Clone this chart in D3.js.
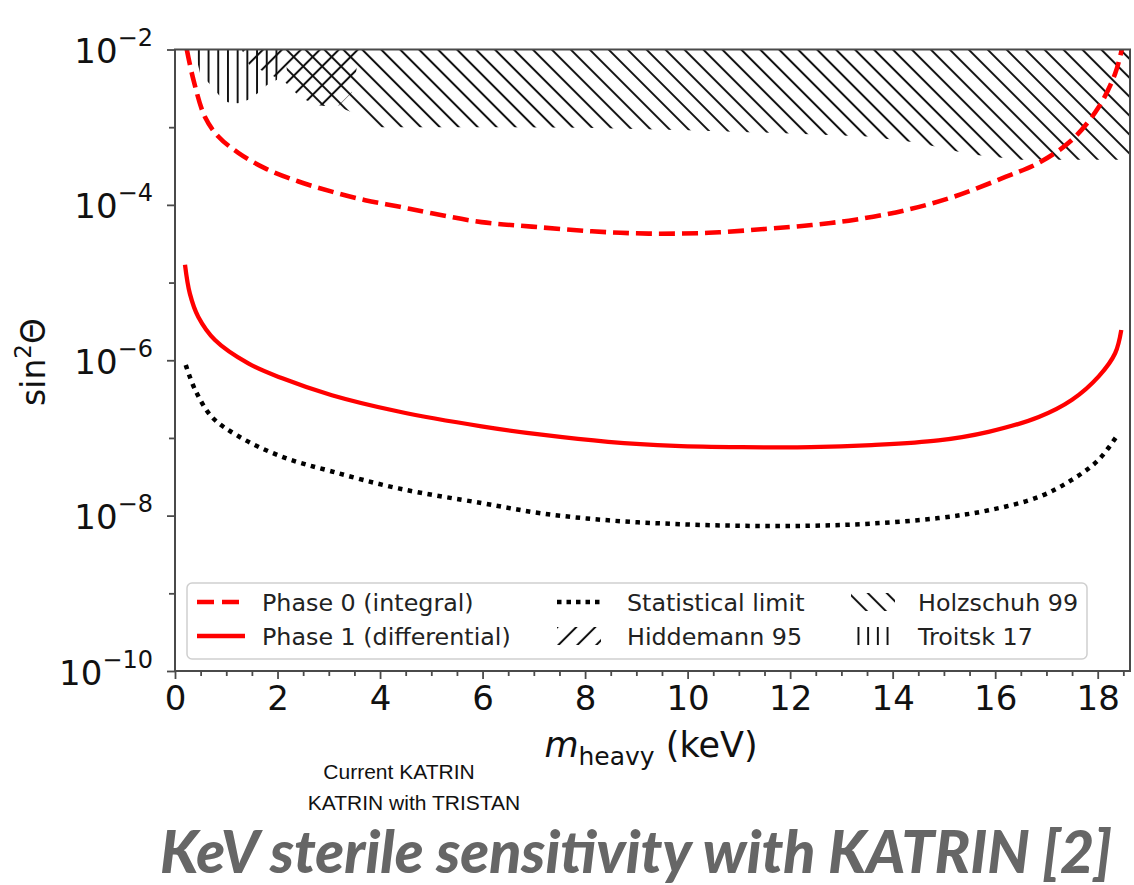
<!DOCTYPE html>
<html><head><meta charset="utf-8">
<script src="https://cdn.jsdelivr.net/npm/d3@7"></script>
<style>body{margin:0;background:#fff}svg{display:block}</style>
</head><body>
<svg id="chart" width="1134" height="885"></svg>
<script>
// ---- data ----
const massPhase0 = [0.23,0.36,0.585,0.845,1.235,1.76,2.41,3.06,3.71,4.36,5.01,5.98,6.96,8.13,9.24,10.41,11.51,12.42,13.27,14.24,15.22,16.20,16.85,17.50,18.02,18.34,18.47];
const sinPhase0  = [1.0e-2,4.07e-3,1.35e-3,7.6e-4,4.68e-4,2.95e-4,2.0e-4,1.48e-4,1.15e-4,9.5e-5,7.8e-5,6.0e-5,5.25e-5,4.57e-5,4.27e-5,4.37e-5,4.9e-5,5.5e-5,6.45e-5,8.5e-5,1.29e-4,2.29e-4,3.47e-4,6.9e-4,1.82e-3,4.9e-3,1.0e-2];

const massPhase1 = [0.195,0.29,0.455,0.78,1.43,2.08,3.06,4.36,5.98,7.15,8.45,9.76,11.06,12.4,13.59,14.89,15.87,16.85,17.50,18.02,18.34,18.46];
const sinPhase1  = [1.7e-5,7.2e-6,3.6e-6,1.82e-6,9.1e-7,5.9e-7,3.55e-7,2.19e-7,1.41e-7,1.10e-7,8.9e-8,7.9e-8,7.6e-8,7.6e-8,8.1e-8,9.3e-8,1.20e-7,1.86e-7,3.1e-7,6.2e-7,1.23e-6,2.45e-6];

const massStat = [0.21,0.39,0.72,1.24,2.08,3.06,4.36,5.98,7.15,8.45,9.76,11.06,12.4,13.59,14.89,15.87,16.85,17.50,18.02,18.41];
const sinStat  = [8.7e-7,4.2e-7,1.86e-7,1.05e-7,5.75e-8,3.7e-8,2.24e-8,1.45e-8,1.07e-8,8.7e-9,7.8e-9,7.4e-9,7.4e-9,7.9e-9,9.3e-9,1.17e-8,1.74e-8,2.9e-8,5.25e-8,1.15e-7];

const massTroitsk = [0.40,0.45,0.49,0.66,0.86,1.03,1.23,1.42,1.62,1.79,1.99,2.05];
const sinTroitsk  = [1e-2,6.3e-3,4.9e-3,3.7e-3,2.57e-3,2.09e-3,2.04e-3,2.24e-3,2.75e-3,3.47e-3,4.07e-3,1e-2];

const massHiddemann = [1.30,1.45,1.8,2.15,2.45,2.8,3.2,3.45,3.62];
const sinHiddemann  = [1e-2,6.3e-3,5.0e-3,3.8e-3,2.4e-3,1.9e-3,1.9e-3,2.8e-3,1e-2];

const massHolzschuh = [2.15,2.2,2.45,2.8,3.2,3.6,3.9,6,8,10,12,13.5,14.5,15.5,16.5,18.7];
const sinHolzschuh  = [1e-2,3.8e-3,2.4e-3,1.9e-3,1.82e-3,1.41e-3,1.0e-3,1.0e-3,9.8e-4,9.1e-4,8.3e-4,7.6e-4,6.3e-4,4.5e-4,3.8e-4,3.8e-4];

const xMajorTicks = [0,2,4,6,8,10,12,14,16,18];
const yMajorExps  = [-2,-4,-6,-8,-10];
const yMinorExps  = [-3,-5,-7,-9];

const legendLabels = ["Phase 0 (integral)","Phase 1 (differential)","Statistical limit","Hiddemann 95","Holzschuh 99","Troitsk 17"];
const notes = ["Current KATRIN","KATRIN with TRISTAN"];
const title = "KeV sterile sensitivity with KATRIN [2]";

// ---- layout ----
const L = 175, R = 1130, T = 49.5, B = 671;
const svg = d3.select("#chart");
const x = d3.scaleLinear().domain([0, 18.63]).range([L, R]);
const y = d3.scaleLog().domain([1e-10, 1e-2]).range([B, T]);
const zip = (a,b) => a.map((m,i)=>({m, v:b[i]}));

const defs = svg.append("defs");
defs.append("clipPath").attr("id","plotclip").append("rect")
  .attr("x",L).attr("y",T).attr("width",R-L).attr("height",B-T);

function hatch(id, angle, spacing){
  const p = defs.append("pattern").attr("id",id).attr("patternUnits","userSpaceOnUse")
    .attr("width",spacing).attr("height",spacing)
    .attr("patternTransform",`rotate(${angle})`);
  p.append("line").attr("x1",spacing/2).attr("x2",spacing/2).attr("y1",-2).attr("y2",spacing+2)
    .attr("stroke","#111").attr("stroke-width",2);
}
hatch("hatchBack", -45, 13.4);   // "\\"
hatch("hatchFwd", 45, 13.4);     // "//"
hatch("hatchVert", 0, 9.7);      // "||"

const plot = svg.append("g").attr("clip-path","url(#plotclip)");
const area = d3.area().x(d=>x(d.m)).y0(d=>y(d.v)).y1(y(1e-2));

plot.append("path").datum(zip(massHolzschuh,sinHolzschuh)).attr("d",area).attr("fill","url(#hatchBack)");
plot.append("path").datum(zip(massHiddemann,sinHiddemann)).attr("d",area).attr("fill","url(#hatchFwd)");
plot.append("path").datum(zip(massTroitsk,sinTroitsk)).attr("d",area).attr("fill","url(#hatchVert)");

const line = d3.line().x(d=>x(d.m)).y(d=>y(d.v)).curve(d3.curveCatmullRom.alpha(0.5));
plot.append("path").datum(zip(massStat,sinStat)).attr("d",line)
  .attr("fill","none").attr("stroke","#000").attr("stroke-width",4.5).attr("stroke-dasharray","4.5,5.5");
plot.append("path").datum(zip(massPhase1,sinPhase1)).attr("d",line)
  .attr("fill","none").attr("stroke","#f00").attr("stroke-width",4.3);
plot.append("path").datum(zip(massPhase0,sinPhase0)).attr("d",line)
  .attr("fill","none").attr("stroke","#f00").attr("stroke-width",4.6).attr("stroke-dasharray","16,7");

// ---- axes ----
const axisColor = "#4a4a4a";
const xAxis = svg.append("g").attr("transform",`translate(0,${B})`)
  .call(d3.axisBottom(x).tickValues(xMajorTicks).tickSize(8).tickPadding(7).tickFormat(d3.format("d")));
const xMinor = svg.append("g").attr("transform",`translate(0,${B})`)
  .call(d3.axisBottom(x).tickValues(d3.range(0.5,18.6,0.5).filter(v=>v%2!==0)).tickSize(5).tickFormat(""));
[xAxis,xMinor].forEach(g=>{
  g.select(".domain").remove();
  g.selectAll("line").attr("stroke",axisColor).attr("stroke-width",1.8);
});
xAxis.selectAll("text").attr("font-family","DejaVu Sans").attr("font-size",34).attr("fill","#111");

const yAxis = svg.append("g").attr("transform",`translate(${L},0)`)
  .call(d3.axisLeft(y).tickValues(yMajorExps.map(e=>Math.pow(10,e))).tickSize(8).tickFormat(""));
const yMinor = svg.append("g").attr("transform",`translate(${L},0)`)
  .call(d3.axisLeft(y).tickValues(yMinorExps.map(e=>Math.pow(10,e))).tickSize(6).tickFormat(""));
[yAxis,yMinor].forEach(g=>{
  g.select(".domain").remove();
  g.selectAll("line").attr("stroke",axisColor).attr("stroke-width",1.8);
});
yAxis.selectAll(".tick").each(function(d){
  const e = Math.round(Math.log10(d));
  const t = d3.select(this).append("text").attr("x",-22).attr("y",13)
    .attr("text-anchor","end").attr("font-family","DejaVu Sans").attr("fill","#111").attr("font-size",34);
  t.append("tspan").text("10");
  t.append("tspan").attr("font-size",24).attr("dy",-17).text("\u2212"+Math.abs(e));
});

svg.append("rect").attr("x",L).attr("y",T).attr("width",R-L).attr("height",B-T)
  .attr("fill","none").attr("stroke",axisColor).attr("stroke-width",2);

// axis labels
const xl = svg.append("text").attr("x",651).attr("y",757).attr("text-anchor","middle")
  .attr("font-family","DejaVu Sans").attr("font-size",35).attr("fill","#111");
xl.append("tspan").attr("font-style","italic").text("m");
xl.append("tspan").attr("font-size",25).attr("dy",8).text("heavy");
xl.append("tspan").attr("dy",-8).text(" (keV)");

const yl = svg.append("text").attr("transform","translate(45,362) rotate(-90)").attr("text-anchor","middle")
  .attr("font-family","DejaVu Sans").attr("font-size",33).attr("fill","#111");
yl.append("tspan").text("sin");
yl.append("tspan").attr("font-size",23).attr("dy",-14).text("2");
yl.append("tspan").attr("dy",14).text("\u0398");

// ---- legend ----
const lg = svg.append("g");
lg.append("rect").attr("x",187).attr("y",583).attr("width",900).attr("height",76).attr("rx",5)
  .attr("fill","#fff").attr("fill-opacity",0.85).attr("stroke","#cfcfcf").attr("stroke-width",1.5);
const rows = [602, 636];
const cols = [[197,245,262],[557,601,627],[851,895,918]];
function legText(c,r,s){
  lg.append("text").attr("x",cols[c][2]).attr("y",rows[r]+8.5).attr("font-family","DejaVu Sans")
    .attr("font-size",23.8).attr("fill","#222").text(s);
}
function legLine(c,r,color,w,dash){
  lg.append("line").attr("x1",cols[c][0]).attr("x2",cols[c][1]).attr("y1",rows[r]).attr("y2",rows[r])
    .attr("stroke",color).attr("stroke-width",w).attr("stroke-dasharray",dash||null);
}
function legPatch(c,r,pat){
  lg.append("rect").attr("x",cols[c][0]).attr("y",rows[r]-9).attr("width",cols[c][1]-cols[c][0]).attr("height",18)
    .attr("fill",`url(#${pat})`);
}
legLine(0,0,"#f00",4.6,"17,8"); legText(0,0,legendLabels[0]);
legLine(0,1,"#f00",4.6);        legText(0,1,legendLabels[1]);
legLine(1,0,"#000",4.5,"4.5,5"); legText(1,0,legendLabels[2]);
legPatch(1,1,"hatchFwd");       legText(1,1,legendLabels[3]);
legPatch(2,0,"hatchBack");      legText(2,0,legendLabels[4]);
legPatch(2,1,"hatchVert");      legText(2,1,legendLabels[5]);

// ---- slide annotations ----
svg.append("text").attr("x",399).attr("y",779).attr("text-anchor","middle")
  .attr("font-family","Liberation Sans").attr("font-size",21).attr("fill","#111").text(notes[0]);
svg.append("text").attr("x",414).attr("y",810).attr("text-anchor","middle")
  .attr("font-family","Liberation Sans").attr("font-size",21).attr("fill","#111").text(notes[1]);
svg.append("text").attr("x",160).attr("y",873)
  .attr("font-family","Lato").attr("font-style","italic").attr("font-weight",900)
  .attr("font-size",59).attr("fill","#666").text(title);
</script>
</body></html>
